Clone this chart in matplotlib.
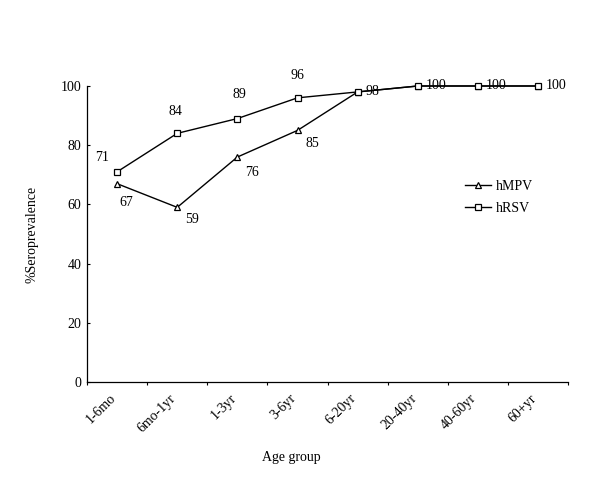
import matplotlib
matplotlib.use("Agg")
import matplotlib.pyplot as plt
import matplotlib.transforms as mtrans
import numpy as np

categories = ["1-6mo", "6mo-1yr", "1-3yr", "3-6yr", "6-20yr", "20-40yr", "40-60yr", "60+yr"]
hmpv = [67, 59, 76, 85, 98, 100, 100, 100]
hrsv = [71, 84, 89, 96, 98, 100, 100, 100]
yticks = [0, 20, 40, 60, 80, 100]

plt.rcParams['font.family'] = ['Liberation Serif', 'DejaVu Serif']
plt.rcParams['font.size'] = 10

fig = plt.figure(figsize=(6, 4.9), dpi=100)
ax = fig.add_axes([0.145, 0.2204, 0.802, 0.6041])
x = np.arange(len(categories))

ax.plot(x, hmpv, color='black', lw=1, marker='^', ms=5, mfc='white', mec='black', mew=0.9,
        label='hMPV', zorder=3, clip_on=False)
ax.plot(x, hrsv, color='black', lw=1, marker='s', ms=4.5, mfc='white', mec='black', mew=0.9,
        label='hRSV', zorder=3, clip_on=False)

ax.set_xlim(-0.5, len(categories) - 0.5)
ax.set_ylim(0, 100)
ax.set_yticks(yticks)
ax.tick_params(axis='y', direction='in', length=2.5, width=0.8, pad=4)
ax.set_xticks(x)
ax.set_xticklabels(categories, rotation=45, ha='right', rotation_mode='anchor')
ax.tick_params(axis='x', which='major', length=0, pad=7)
ax.set_xticks(np.arange(-0.5, len(categories)), minor=True)
ax.tick_params(axis='x', which='minor', direction='out', length=2.5, width=0.8)
shift = mtrans.ScaledTranslation(-8/100, 0, fig.dpi_scale_trans)
for lab in ax.get_xticklabels():
    lab.set_transform(lab.get_transform() + shift)
for s in ['top', 'right']:
    ax.spines[s].set_visible(False)
for s in ['left', 'bottom']:
    ax.spines[s].set_linewidth(0.9)

k = 0.72
# hRSV labels (first four)
rsv_off = [(-15, 14), (-2, 22), (2, 24), (0, 22)]
for i in range(4):
    ax.annotate(str(hrsv[i]), (x[i], hrsv[i]), xytext=(rsv_off[i][0]*k, rsv_off[i][1]*k),
                textcoords='offset points', ha='center', va='center', annotation_clip=False)
# hMPV labels
mpv_off = [(9, -19), (15, -12), (15, -15), (15, -13)]
for i in range(4):
    ax.annotate(str(hmpv[i]), (x[i], hmpv[i]), xytext=(mpv_off[i][0]*k, mpv_off[i][1]*k),
                textcoords='offset points', ha='center', va='center', annotation_clip=False)
for i in range(4, len(categories)):
    ax.annotate(str(hmpv[i]), (x[i], hmpv[i]), xytext=(8*k, 0),
                textcoords='offset points', ha='left', va='center', annotation_clip=False)

ax.legend(loc='upper left', bbox_to_anchor=(0.774, 0.70), frameon=False,
          handlelength=1.9, handletextpad=0.3, labelspacing=0.6, borderaxespad=0)

ax.set_ylabel('%Seroprevalence', labelpad=16)
fig.text(291/600, 1 - 457/490, 'Age group', ha='center', va='center')

fig.savefig('out.png', dpi=100)
